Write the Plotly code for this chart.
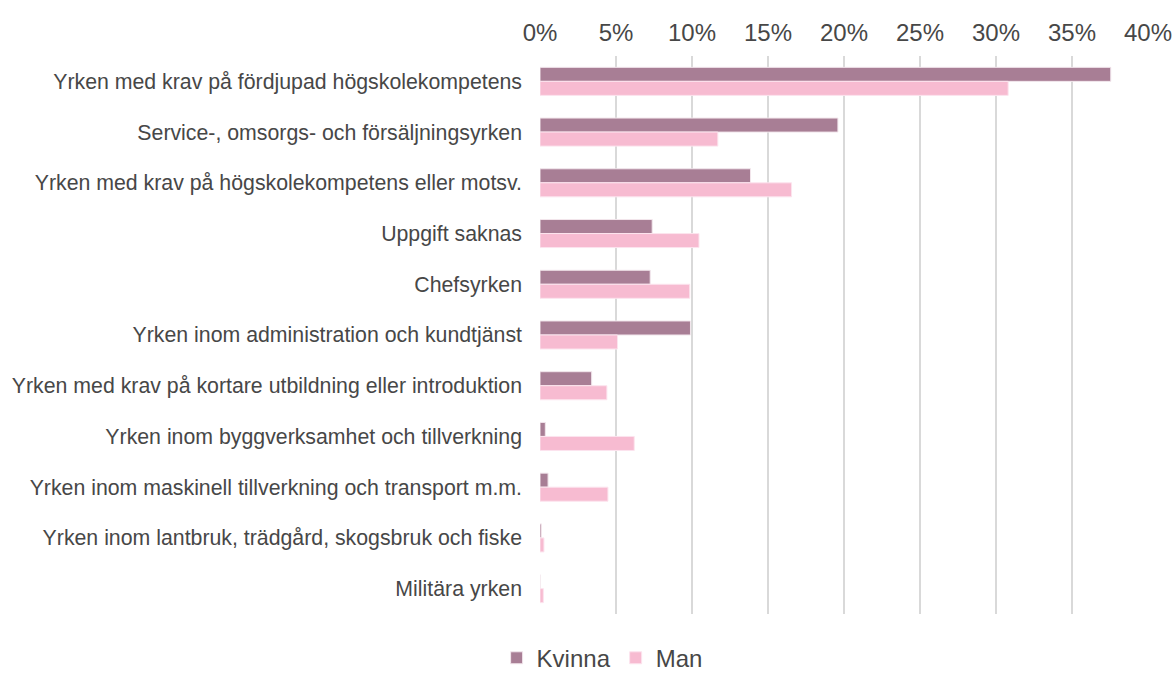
import plotly.graph_objects as go

categories = [
    "Yrken med krav på fördjupad högskolekompetens",
    "Service-, omsorgs- och försäljningsyrken",
    "Yrken med krav på högskolekompetens eller motsv.",
    "Uppgift saknas",
    "Chefsyrken",
    "Yrken inom administration och kundtjänst",
    "Yrken med krav på kortare utbildning eller introduktion",
    "Yrken inom byggverksamhet och tillverkning",
    "Yrken inom maskinell tillverkning och transport m.m.",
    "Yrken inom lantbruk, trädgård, skogsbruk och fiske",
    "Militära yrken",
]
kvinna = [0.3755, 0.196, 0.1385, 0.0738, 0.0725, 0.099, 0.034, 0.0035, 0.0053, 0.001, 0.0]
man = [0.308, 0.117, 0.1655, 0.1046, 0.0985, 0.051, 0.044, 0.062, 0.0447, 0.0026, 0.0022]
x_ticks = [0, 0.05, 0.10, 0.15, 0.20, 0.25, 0.30, 0.35, 0.40]

TEXT = "#474747"

fig = go.Figure()
fig.add_trace(go.Bar(y=categories, x=kvinna, name="Kvinna", orientation="h",
                     marker=dict(color="#A87E95", line=dict(color="#F2E6EC", width=1))))
fig.add_trace(go.Bar(y=categories, x=man, name="Man", orientation="h",
                     marker=dict(color="#F7BBD1", line=dict(color="#FCE4EE", width=1))))

fig.update_layout(
    barmode="group",
    bargap=0.447,
    bargroupgap=0,
    width=1176, height=673,
    margin=dict(l=540, r=28, t=56, b=59, autoexpand=False),
    paper_bgcolor="white",
    plot_bgcolor="white",
    font=dict(family="Liberation Sans, Arial, sans-serif", color=TEXT, size=21.3),
    legend=dict(orientation="h", xref="container", yref="container",
                x=0.512, xanchor="center", y=0.022, yanchor="middle",
                font=dict(size=24, color=TEXT), traceorder="normal",
                itemwidth=30),
    showlegend=True,
)
fig.update_xaxes(
    side="top", range=[0, 0.4], tickvals=x_ticks, tickformat=".0%",
    showgrid=True, gridcolor="#D9D9D9", gridwidth=2,
    zeroline=False, showline=False, ticks="", automargin=False,
    ticklabeloverflow="allow",
    tickfont=dict(size=24, color=TEXT), ticklabelstandoff=9,
)
fig.update_yaxes(
    autorange="reversed", showgrid=False, ticks="", showline=False,
    automargin=False,
    tickfont=dict(size=21.3, color=TEXT), ticklabelstandoff=17,
)

fig.write_html("out.html", config={"displayModeBar": False},
               post_script="document.body.style.margin='0';document.body.style.overflow='hidden';")
